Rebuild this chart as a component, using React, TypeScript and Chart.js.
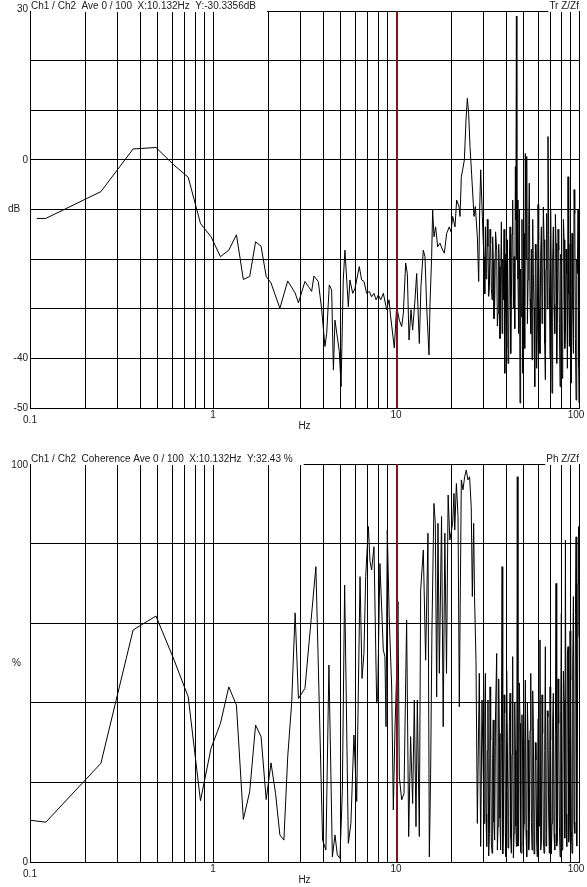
import React, { useEffect, useRef } from 'react';
import { Chart, registerables } from 'chart.js';

Chart.register(...registerables);

// ---------- shared axis data ----------
const gridFreqs = [
  0.1, 0.2, 0.3, 0.4, 0.5, 0.6, 0.7, 0.8, 0.9,
  1, 2, 3, 4, 5, 6, 7, 8, 9,
  10, 20, 30, 40, 50, 60, 70, 80, 90, 100,
];
const xTickValues = [0.1, 1, 10, 100];
const xTickLabels = ['0.1', '1', '10', '100'];
const xAxisTitle = 'Hz';
const cursorFreq = 10.132;

// high-frequency bins (30-100 Hz) shared by both panels
const hfFreq = [
  30.3, 30.55, 30.8, 31.05, 31.3, 31.55, 31.8, 32.1, 32.4, 32.65,
  32.9, 33.2, 33.5, 33.75, 34.0, 34.3, 34.6, 35.0, 35.5, 35.8,
  36.1, 36.4, 36.7, 37.0, 37.3, 37.65, 38.0, 38.3, 38.6, 38.95,
  39.3, 39.6, 39.9, 40.25, 40.6, 40.95, 41.3, 41.65, 42.0, 42.35,
  42.7, 43.05, 43.4, 43.8, 44.2, 44.55, 44.9, 45.2, 45.5, 45.75,
  46.0, 46.4, 46.8, 47.2, 47.6, 48.0, 48.4, 48.8, 49.2, 49.65,
  50.1, 50.5, 50.9, 51.35, 51.8, 52.25, 52.7, 53.1, 53.5, 54.0,
  54.5, 54.95, 55.4, 55.85, 56.3, 56.8, 57.3, 57.75, 58.2, 58.7,
  59.2, 59.7, 60.2, 60.7, 61.2, 61.75, 62.3, 62.8, 63.3, 63.85,
  64.4, 64.95, 65.5, 66.05, 66.6, 67.15, 67.7, 68.3, 68.9, 69.45,
  70.0, 70.6, 71.2, 71.8, 72.4, 73.05, 73.7, 74.3, 74.9, 75.55,
  76.2, 76.85, 77.5, 78.15, 78.8, 79.45, 80.1, 80.8, 81.5, 82.2,
  82.9, 83.6, 84.3, 85.0, 85.7, 86.4, 87.1, 87.85, 88.6, 89.35,
  90.1, 90.85, 91.6, 92.4, 93.2, 94.0, 94.8, 95.6, 96.4, 97.2,
  98.0, 98.8, 99.6, 100,
];

// ---------- top panel: transfer function (dB) ----------
const trTitle = 'Ch1 / Ch2  Ave 0 / 100  X:10.132Hz  Y:-30.3356dB';
const trRightLabel = 'Tr Z/Zf';
const trYTickValues = [30, 0, -40, -50];
const trYTickLabels = ['30', '0', '-40', '-50'];
const trUnit = 'dB';
const trUnitValue = -10;

const trLowFreq = [
  0.109, 0.122, 0.244, 0.366, 0.488, 0.61, 0.732, 0.854, 0.976, 1.098,
  1.22, 1.343, 1.465, 1.587, 1.709, 1.831, 1.953, 2.075, 2.32, 2.56,
  2.81, 2.93,
  3.18, 3.32, 3.46, 3.56, 3.76, 3.92, 4.09, 4.18, 4.32, 4.45,
  4.55, 4.64, 4.9, 5.01, 5.15, 5.26, 5.49, 5.6, 5.8, 5.97,
  6.3, 6.49, 6.69, 6.91, 7.15, 7.36, 7.58, 7.78, 8.01, 8.25,
  8.53, 8.89, 9.16, 9.35, 9.79, 10.08, 10.43, 10.74, 10.97, 11.29,
  11.53, 11.78, 12.08, 12.33, 12.7, 12.97, 13.41, 13.69, 14.1, 14.4,
  14.71, 15.15, 15.34, 15.66, 15.86, 16.13, 16.47, 16.89, 17.4, 17.99,
  18.37, 18.92, 19.56, 19.98, 20.4, 21.01, 21.45, 22.09, 22.38, 22.75,
  23.14, 23.63, 24.13, 24.53, 24.95, 25.37, 25.91, 26.69, 27.14, 27.83,
  28.3, 28.66, 29.02, 29.64, 30.0,
];
const trLowDb = [
  -11.8, -11.8, -6.4, 2.2, 2.5, -1.0, -3.5, -12.8, -15.5, -19.5,
  -18.2, -15.1, -24.1, -23.5, -16.5, -17.4, -23.5, -24.8, -29.9, -24.4,
  -26.8, -28.8,
  -24.5, -25.5, -26.5, -23.4, -24.5, -29.9, -37.6, -35.0, -25.2, -26.2,
  -42.3, -32.3, -38.6, -45.7, -24.2, -18.2, -29.6, -24.2, -26.9, -25.9,
  -21.5, -24.2, -24.5, -26.9, -26.5, -27.6, -26.9, -28.2, -27.2, -28.2,
  -26.9, -30.2, -28.2, -31.6, -37.9, -29.6, -32.3, -33.6, -30.9, -20.8,
  -22.9, -36.3, -30.2, -34.3, -28.2, -22.9, -37.0, -25.5, -18.2, -19.5,
  -29.6, -39.3, -28.9, -19.5, -10.1, -15.5, -13.5, -17.5, -16.8, -18.2,
  -18.8, -14.8, -13.5, -14.5, -11.4, -13.5, -8.1, -9.4, -11.4, -3.4,
  -2.0, 0, 8.0, 12.4, 9.4, 2.7, -3.0, -11.4, -9.4, -15.5,
  -24.5, -10.1, -2.0, -11.4, -16.8,
];
const trHfDb = [
  -19.5, -27.0, -13.5, -24.0, -22.9, -12.0, -17.5, -27.5, -25.5, -14.0,
  -16.8, -26.0, -28.2, -15.5, -20.2, -32.0, -29.6, -14.5, -18.2, -33.5,
  -30.9, -17.0, -21.5, -36.0, -25.5, -12.5, -35.0, -20.0, -28.2, -14.0,
  -43.0, -19.0, -30.9, -38.0, -16.1, -41.0, -35.0, -20.0, -13.5, -39.0,
  -28.2, -15.0, -8.1, -30.0, -19.5, -34.0, -1.4, -12.0, 29.0, -20.0,
  -8.1, -24.0, -35.0, -10.0, -49.0, -22.0, -31.6, -12.0, -43.0, -26.0,
  -14.8, -38.0, 1.3, -20.0, 0.7, -33.0, -24.2, -13.0, -4.7, -28.0,
  -35.0, -18.0, -40.3, -12.0, -22.9, -30.0, -45.7, -17.0, -20.2, -42.0,
  -35.0, -9.0, -16.1, -30.0, -39.0, -19.0, -13.5, -33.0, -25.5, -9.5,
  -16.1, -37.0, -44.3, -22.0, -10.8, -30.0, 4.7, -15.0, -25.5, -40.0,
  -10.1, -26.0, -47.0, -20.0, -13.5, -29.0, -35.0, -11.0, -16.8, -41.0,
  -30.9, -14.0, -18.2, -33.0, -45.7, -19.0, -21.5, -44.0, -39.0, -12.0,
  -16.1, -38.0, -35.0, -18.0, -22.9, -42.0, -3.4, -27.0, -37.6, -17.0,
  -25.5, -45.0, -14.8, -30.0, -39.0, -6.0, -10.8, -36.0, -48.4, -20.0,
  -22.9, -10.0, -41.7, -49.0,
];

// ---------- bottom panel: coherence (%) ----------
const cohTitle = 'Ch1 / Ch2  Coherence Ave 0 / 100  X:10.132Hz  Y:32.43 %';
const cohRightLabel = 'Ph Z/Zf';
const cohYTickValues = [100, 0];
const cohYTickLabels = ['100', '0'];
const cohUnit = '%';
const cohUnitValue = 50;

const cohLowFreq = [
  0.1, 0.122, 0.244, 0.366, 0.488, 0.61, 0.732, 0.854, 0.976, 1.098,
  1.22, 1.343, 1.465, 1.587, 1.709, 1.831, 1.953, 2.075, 2.197, 2.32,
  2.44, 2.56, 2.69, 2.81, 2.93,
  3.18, 3.65, 3.97, 4.14, 4.3, 4.49, 4.64, 4.78, 4.94, 5.09,
  5.24, 5.49, 5.67, 5.89, 6.1, 6.36, 6.52, 6.68, 6.83, 7.06,
  7.21, 7.36, 7.58, 7.84, 7.94, 8.17, 8.52, 8.7, 8.82, 8.96,
  9.19, 9.47, 9.67, 9.87, 10.08, 10.25, 10.43, 10.74, 11.06, 11.43,
  11.73, 12.02, 12.33, 12.59, 12.86, 13.08, 13.41, 13.64, 14.1, 14.52,
  14.95, 15.21, 15.46, 15.72, 16.12, 16.4, 16.68, 16.96, 17.25,
  17.74, 18.11, 18.49, 18.88, 19.27, 19.68, 20.4, 20.74, 20.94, 21.38,
  21.83, 22.18, 22.75, 23.23, 23.72, 24.21, 24.72, 25.24, 25.77, 26.13,
  26.57, 26.86, 27.36, 27.83, 28.53, 29.02, 29.51,
];
const cohLowPct = [
  10.5, 10.0, 24.8, 58.3, 61.8, 51.0, 41.5, 15.4, 28.6, 34.8,
  44.0, 39.4, 10.7, 17.7, 34.4, 31.5, 15.7, 24.9, 17.2, 6.8,
  5.5, 26.4, 39.9, 62.6, 41.1,
  43.6, 74.2, 5.5, 3.0, 49.5, 1.3, 6.8, 1.8, 0.9, 17.7,
  69.6, 4.7, 9.7, 31.9, 15.2, 71.7, 46.1, 52.4, 71.7, 84.3,
  75.5, 73.4, 79.2, 39.9, 41.5, 75.0, 53.3, 51.6, 34.0, 83.4,
  60.8, 44.0, 13.1, 33.2, 47.4, 65.4, 21.4, 15.6, 17.2, 60.8,
  6.4, 31.5, 14.7, 40.7, 8.9, 40.7, 6.4, 68.3, 78.4, 50.7,
  82.6, 1.3, 22.3, 58.3, 90.1, 85.1, 41.5, 85.1, 47.4,
  86.8, 34.0, 82.6, 47.4, 92.2, 80.9, 85.1, 92.6, 83.4, 95.1,
  86.8, 39.0, 96.0, 93.5, 96.8, 98.5, 96.0, 96.8, 89.3, 66.7,
  85.1, 66.7, 50.7, 9.7, 47.4, 3.9, 40.7,
];
const cohHfPct = [
  9.7, 38.0, 47.4, 12.0, 3.9, 28.0, 40.7, 1.5, 7.2, 44.0,
  30.6, 4.5, 2.2, 26.0, 35.7, 10.0, 5.5, 38.0, 52.4, 3.0,
  8.9, 46.0, 32.3, 11.0, 3.0, 30.0, 74.2, 2.0, 6.4, 42.0,
  37.4, 7.0, 1.3, 48.0, 30.6, 3.5, 11.4, 35.0, 42.4, 6.0,
  2.2, 27.0, 51.6, 1.0, 7.2, 40.0, 28.1, 9.0, 3.9, 33.0,
  96.8, 4.0, 5.5, 45.0, 34.8, 2.5, 2.2, 37.0, 25.6, 4.0,
  9.7, 29.0, 45.7, 8.0, 1.3, 40.0, 30.6, 3.0, 6.4, 33.0,
  47.4, 10.0, 3.0, 43.0, 34.0, 2.0, 8.0, 30.0, 25.6, 5.0,
  1.3, 36.0, 40.7, 9.0, 55.8, 3.0, 4.7, 42.0, 32.3, 6.0,
  2.2, 28.0, 54.1, 4.0, 7.2, 38.0, 36.5, 11.0, 2.2, 44.0,
  30.6, 2.0, 9.7, 35.0, 42.4, 7.0, 3.0, 32.0, 70.0, 4.0,
  5.5, 46.0, 34.8, 9.0, 1.3, 38.0, 62.5, 3.0, 8.0, 48.0,
  40.7, 6.0, 80.9, 12.0, 3.9, 52.0, 54.1, 5.0, 10.5, 58.0,
  45.7, 8.0, 2.2, 49.0, 66.7, 10.0, 7.2, 62.0, 81.7, 4.0,
  30.6, 70.0, 84.3, 56.6,
];

const FONT = '10px "Liberation Sans", Arial, Helvetica, sans-serif';
const TEXT_COLOR = '#1a1a1a';
const GRID_COLOR = '#000000';
const LINE_COLOR = '#000000';
const CURSOR_COLOR = '#7c1a1a';

type PanelProps = {
  top: number;
  height: number;
  padTop: number;
  padBottom: number;
  freq: number[];
  values: number[];
  yMin: number;
  yMax: number;
  yStep: number;
  yTickValues: number[];
  yTickLabels: string[];
  unit: string;
  unitValue: number;
  unitX: number;
  topLabelShift: number;
  title: string;
  rightLabel: string;
};

function Panel(p: PanelProps) {
  const ref = useRef<HTMLCanvasElement | null>(null);

  useEffect(() => {
    if (!ref.current) return;

    const textPlugin = {
      id: 'panelText',
      afterDatasetsDraw(chart: any) {
        const { ctx, chartArea: ca, scales } = chart;
        const cx = scales.x.getPixelForValue(cursorFreq);
        ctx.save();
        ctx.strokeStyle = CURSOR_COLOR;
        ctx.lineWidth = 2;
        ctx.beginPath();
        ctx.moveTo(cx, ca.top);
        ctx.lineTo(cx, ca.bottom);
        ctx.stroke();
        ctx.restore();
      },
      afterDraw(chart: any) {
        const { ctx, chartArea: ca, scales } = chart;
        const xs = scales.x;
        const ys = scales.y;
        ctx.save();
        ctx.font = FONT;
        ctx.fillStyle = TEXT_COLOR;

        // y tick labels
        ctx.textAlign = 'right';
        ctx.textBaseline = 'middle';
        p.yTickValues.forEach((v, i) => {
          const py = ys.getPixelForValue(v) + (i === 0 ? p.topLabelShift : 0);
          ctx.fillText(p.yTickLabels[i], ca.left - 2, py);
        });
        // unit label
        ctx.textAlign = 'center';
        ctx.fillText(p.unit, p.unitX, ys.getPixelForValue(p.unitValue));

        // x tick labels
        xTickValues.forEach((v, i) => {
          let px = xs.getPixelForValue(v);
          let py = ca.bottom + 7;
          if (i === 0) py = ca.bottom + 12;
          if (i === xTickValues.length - 1) px -= 3;
          ctx.fillText(xTickLabels[i], px, py);
        });
        ctx.fillText(xAxisTitle, (ca.left + ca.right) / 2, ca.bottom + 18);

        // title with white background
        ctx.textAlign = 'left';
        ctx.textBaseline = 'alphabetic';
        const tw = ctx.measureText(p.title).width;
        ctx.fillStyle = '#ffffff';
        ctx.fillRect(ca.left + 1, ca.top - 12, tw + 11, 13);
        ctx.fillStyle = TEXT_COLOR;
        ctx.fillText(p.title, ca.left + 1, ca.top - 2);

        // right label
        const rw = ctx.measureText(p.rightLabel).width;
        ctx.fillStyle = '#ffffff';
        ctx.fillRect(ca.right - rw - 1, ca.top - 12, rw + 1, 13);
        ctx.fillStyle = TEXT_COLOR;
        ctx.textAlign = 'right';
        ctx.fillText(p.rightLabel, ca.right, ca.top - 2);
        ctx.restore();
      },
    };

    const chart = new Chart(ref.current, {
      type: 'scatter',
      data: {
        datasets: [
          {
            data: p.freq.map((f, i) => ({ x: f, y: p.values[i] })),
            showLine: true,
            borderColor: LINE_COLOR,
            borderWidth: 1,
            pointRadius: 0,
            tension: 0,
            fill: false,
          },
        ],
      },
      options: {
        animation: false,
        responsive: false,
        events: [],
        layout: {
          padding: { left: 30, right: 8, top: p.padTop, bottom: p.padBottom },
        },
        plugins: {
          legend: { display: false },
          tooltip: { enabled: false },
        },
        scales: {
          x: {
            type: 'logarithmic',
            min: 0.1,
            max: 100,
            afterBuildTicks: (axis: any) => {
              axis.ticks = gridFreqs.map((v) => ({ value: v }));
            },
            afterFit: (axis: any) => {
              axis.height = 0;
            },
            ticks: { display: false },
            grid: { color: GRID_COLOR, lineWidth: 1, drawTicks: false },
            border: { color: GRID_COLOR, width: 1 },
          },
          y: {
            type: 'linear',
            min: p.yMin,
            max: p.yMax,
            ticks: { display: false, stepSize: p.yStep },
            afterFit: (axis: any) => {
              axis.width = 0;
            },
            grid: { color: GRID_COLOR, lineWidth: 1, drawTicks: false },
            border: { color: GRID_COLOR, width: 1 },
          },
        },
      },
      plugins: [textPlugin],
    });

    return () => chart.destroy();
  }, []);

  return (
    <canvas
      ref={ref}
      width={587}
      height={p.height}
      style={{ position: 'absolute', left: 0, top: p.top, width: 587, height: p.height, display: 'block' }}
    />
  );
}

export default function App() {
  return (
    <div style={{ position: 'absolute', left: 0, top: 0, width: 587, height: 887, background: '#ffffff', overflow: 'hidden' }}>
      <Panel
        top={0}
        height={440}
        padTop={11}
        padBottom={32}
        freq={[...trLowFreq, ...hfFreq]}
        values={[...trLowDb, ...trHfDb]}
        yMin={-50}
        yMax={30}
        yStep={10}
        yTickValues={trYTickValues}
        yTickLabels={trYTickLabels}
        unit={trUnit}
        unitValue={trUnitValue}
        unitX={14}
        topLabelShift={-2}
        title={trTitle}
        rightLabel={trRightLabel}
      />
      <Panel
        top={440}
        height={447}
        padTop={24}
        padBottom={25}
        freq={[...cohLowFreq, ...hfFreq]}
        values={[...cohLowPct, ...cohHfPct]}
        yMin={0}
        yMax={100}
        yStep={20}
        yTickValues={cohYTickValues}
        yTickLabels={cohYTickLabels}
        unit={cohUnit}
        unitValue={cohUnitValue}
        unitX={16.5}
        topLabelShift={1}
        title={cohTitle}
        rightLabel={cohRightLabel}
      />
    </div>
  );
}
